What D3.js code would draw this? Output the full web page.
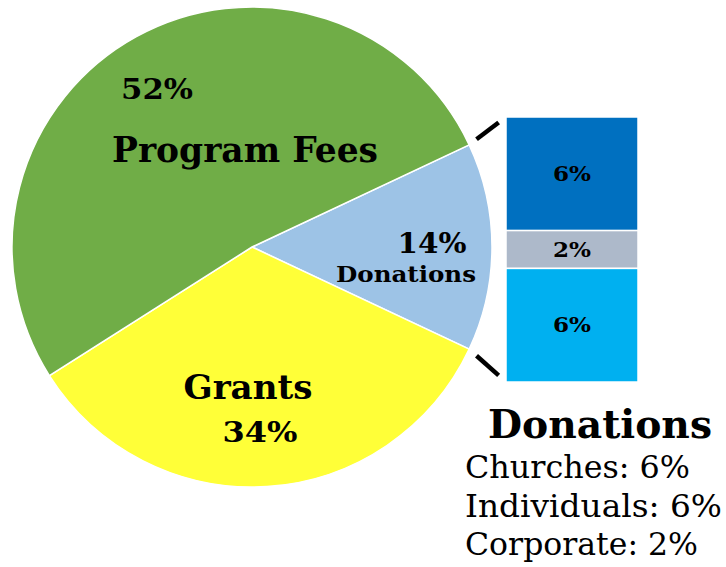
<!DOCTYPE html>
<html>
<head>
<meta charset="utf-8">
<script src="https://cdn.jsdelivr.net/npm/d3@7"></script>
<style>
html,body{margin:0;padding:0;background:#fff;}
svg{display:block;}
text{font-family:"DejaVu Serif",Georgia,serif;fill:#000;}
</style>
</head>
<body>
<svg id="chart" width="726" height="567"></svg>
<script>
// ---- data ----
const categories = ["Donations", "Grants", "Program Fees"];
const shares = [14, 34, 52];
const sliceColors = ["#9DC3E6", "#FFFF38", "#70AD47"];

const donationParts = ["Churches", "Corporate", "Individuals"]; // bar order top->bottom
const donationValues = [6, 2, 6];
const donationColors = ["#0070C0", "#ADB9CA", "#00B0F0"];

const legendTitle = "Donations";
const legendItems = ["Churches: 6%", "Individuals: 6%", "Corporate: 2%"];

// ---- layout ----
const svg = d3.select("#chart");
const cx = 252, cy = 247, R = 240;

const donAngle = shares[0] / 100 * 2 * Math.PI;
const start = Math.PI / 2 - donAngle / 2;
const pie = d3.pie().sort(null).value(d => d).startAngle(start).endAngle(start + 2 * Math.PI);
const arcs = pie(shares);
const arc = d3.arc().innerRadius(0).outerRadius(R);

const g = svg.append("g").attr("transform", `translate(${cx},${cy})`);
g.selectAll("path").data(arcs).join("path")
  .attr("d", arc)
  .attr("fill", (d, i) => sliceColors[i])
  .attr("stroke", "#ffffff")
  .attr("stroke-width", 1.5);

// pie labels (relative to centre)
const pieLabels = [
  {t: "52%", x: -95, y: -148, fs: 28, len: 72},
  {t: "Program Fees", x: -7, y: -85, fs: 36, len: 266},
  {t: "14%", x: 180, y: 6, fs: 27, len: 69},
  {t: "Donations", x: 154, y: 35, fs: 22, len: 140},
  {t: "Grants", x: -4, y: 152, fs: 34, len: 129},
  {t: "34%", x: 8, y: 195, fs: 28, len: 75}
];
g.selectAll("text.pl").data(pieLabels).join("text")
  .attr("class", "pl")
  .attr("x", d => d.x).attr("y", d => d.y)
  .attr("text-anchor", "middle")
  .attr("font-weight", "bold")
  .attr("font-size", d => d.fs)
  .attr("textLength", d => d.len)
  .attr("lengthAdjust", "spacingAndGlyphs")
  .text(d => d.t);

// ---- stacked bar ----
const barX = 506, barW = 132, barTop = 117, barBot = 382;
const total = d3.sum(donationValues);
const y = d3.scaleLinear().domain([0, total]).range([barTop, barBot]);
let cum = 0;
const segs = donationValues.map((v, i) => { const s = {v, i, y0: cum, y1: cum + v}; cum += v; return s; });
const bar = svg.append("g");
bar.selectAll("rect").data(segs).join("rect")
  .attr("x", barX).attr("width", barW)
  .attr("y", d => y(d.y0)).attr("height", d => y(d.y1) - y(d.y0))
  .attr("fill", d => donationColors[d.i])
  .attr("stroke", "#ffffff").attr("stroke-width", 1.5);
bar.selectAll("text").data(segs).join("text")
  .attr("x", barX + barW / 2)
  .attr("y", d => (y(d.y0) + y(d.y1)) / 2 + 7)
  .attr("text-anchor", "middle")
  .attr("font-weight", "bold")
  .attr("font-size", 20)
  .attr("textLength", 38)
  .attr("lengthAdjust", "spacingAndGlyphs")
  .text(d => d.v + "%");

// ---- connector lines ----
const a0 = arcs[0];
const pTop = [cx + R * Math.sin(a0.startAngle), cy - R * Math.cos(a0.startAngle)];
const pBot = [cx + R * Math.sin(a0.endAngle), cy - R * Math.cos(a0.endAngle)];
const cTop = [barX, barTop], cBot = [barX, barBot];
function seg(p, c) {
  const dx = c[0] - p[0], dy = c[1] - p[1];
  return [p[0] + 0.2 * dx, p[1] + 0.2 * dy, p[0] + 0.8 * dx, p[1] + 0.8 * dy];
}
[seg(pTop, cTop), seg(pBot, cBot)].forEach(s => {
  svg.append("line")
    .attr("x1", s[0]).attr("y1", s[1]).attr("x2", s[2]).attr("y2", s[3])
    .attr("stroke", "#000").attr("stroke-width", 4.5);
});

// ---- legend ----
svg.append("text")
  .attr("x", 488).attr("y", 438)
  .attr("font-weight", "bold").attr("font-size", 39)
  .attr("textLength", 224).attr("lengthAdjust", "spacingAndGlyphs")
  .text(legendTitle);
const legLens = [225, 257, 233];
svg.selectAll("text.leg").data(legendItems).join("text")
  .attr("class", "leg")
  .attr("x", 465)
  .attr("y", (d, i) => 478 + i * 38.5)
  .attr("font-size", 32)
  .attr("textLength", (d, i) => legLens[i])
  .attr("lengthAdjust", "spacingAndGlyphs")
  .text(d => d);
</script>
</body>
</html>
